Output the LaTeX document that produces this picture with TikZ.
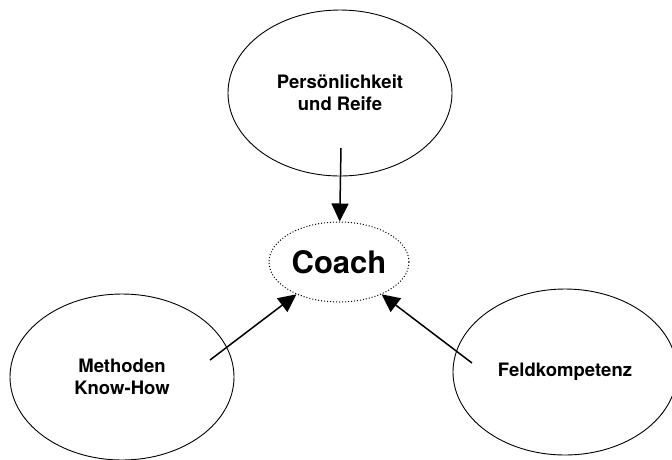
\documentclass[tikz,border=0pt]{standalone}
\usepackage{fontspec}
\setmainfont{TeX Gyre Heros}
\usetikzlibrary{shapes.geometric,arrows.meta}
\tikzset{
  factor/.style = {draw, ellipse, line width=0.9pt, inner sep=0pt,
                   minimum width=224pt, minimum height=166pt, align=center,
                   font=\fontsize{18.5}{22}\selectfont\bfseries},
  coachnode/.style = {draw, ellipse, dotted, line width=1pt, inner sep=0pt,
                      minimum width=140pt, minimum height=80pt,
                      font=\fontsize{31}{34}\selectfont\bfseries},
  feed/.style = {line width=1.5pt, -{Triangle[length=18pt,width=17pt]}}
}

\begin{document}
\begin{tikzpicture}[x=1pt,y=1pt]
  \useasboundingbox (0,0) rectangle (672,-459);
  \node[factor]    (reife)  at (340,-93)  {Persönlichkeit\\und Reife};
  \node[coachnode] (coach)  at (339,-262) {Coach};
  \node[factor]    (method) at (122,-377) {Methoden\\Know-How};
  \node[factor]    (feld)   at (565,-372) {Feldkompetenz};
  \coordinate (reifeTail)  at (341,-148);
  \coordinate (methodTail) at (210,-360);
  \coordinate (feldTail)   at (472,-363);
  \draw[feed] (reifeTail) -- (coach);
  \draw[feed] (methodTail) -- (coach);
  \draw[feed] (feldTail) -- (coach);
\end{tikzpicture}
\end{document}
